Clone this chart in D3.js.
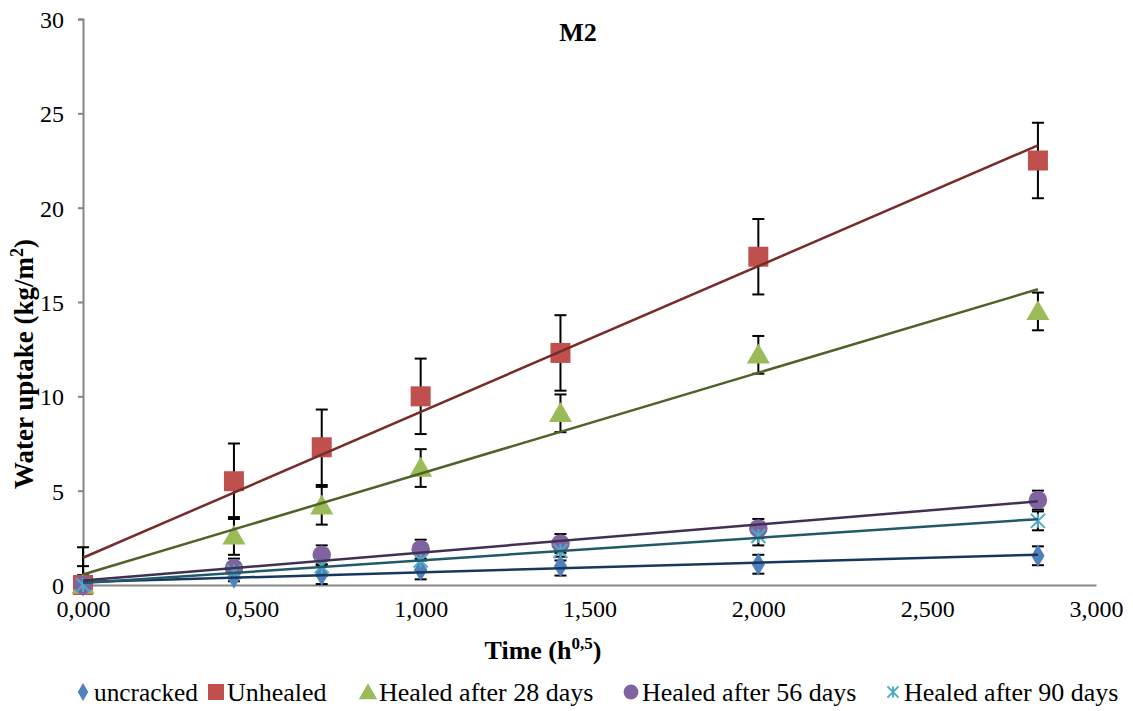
<!DOCTYPE html>
<html>
<head>
<meta charset="utf-8">
<title>M2 - Water uptake</title>
<script src="https://cdn.jsdelivr.net/npm/d3@7"></script>
<style>
    body { margin: 0; background: #fff; }
    svg text { font-family: "Liberation Serif", "Times New Roman", serif; fill: #000; }
</style>
</head>
<body>
<script>
// time in h^0.5
var times = [0, 0.447, 0.707, 1, 1.414, 2, 2.828];

var uncracked = [0, 0.4, 0.55, 0.8, 1.0, 1.1, 1.55];
var unhealed = [0, 5.5, 7.3, 10.0, 12.3, 17.4, 22.5];
var healed28 = [0, 2.6, 4.2, 6.2, 9.1, 12.2, 14.5];
var healed56 = [0, 0.9, 1.6, 1.9, 2.2, 3.0, 4.5];
var healed90 = [0, 0.7, 1.0, 1.3, 1.8, 2.6, 3.4];

// error bar half widths
var errors = [0.5, 2, 1, 0.5, 0.5];

var seriesNames = ["uncracked", "Unhealed", "Healed after 28 days", "Healed after 56 days", "Healed after 90 days"];
var yTicks = [0, 5, 10, 15, 20, 25, 30];
var xTicks = [0, 0.5, 1, 1.5, 2, 2.5, 3];

var markerColors = ["#4F81BD", "#C0504D", "#9BBB59", "#8064A2", "#4BACC6"];
var lineColors = ["#17375E", "#772C2A", "#4F6228", "#403152", "#215968"];
var shapes = ["diamond", "square", "triangle", "circle", "star"];

var allValues = [uncracked, unhealed, healed28, healed56, healed90];

var width = 1133, height = 711;
var svg = d3.select("body").append("svg")
    .attr("width", width)
    .attr("height", height);

var x = d3.scaleLinear().domain([0, 3]).range([83, 1096]);
var y = d3.scaleLinear().domain([0, 30]).range([585, 19]);

// shrink a text's font until it fits the width it has in the reference
function fitWidth(sel, target, size) {
    var w = sel.node().getComputedTextLength();
    if (w > target) sel.style("font-size", (size * target / w).toFixed(1) + "px");
}

// axes
var yAxis = svg.append("g")
    .attr("transform", "translate(83,0)")
    .call(d3.axisLeft(y).tickValues(yTicks).tickSize(5).tickPadding(14).tickFormat(d3.format("d")));
yAxis.attr("font-family", null).attr("font-size", null);
yAxis.select(".domain").attr("stroke", "#868686").attr("stroke-width", 2);
yAxis.selectAll(".tick line").attr("stroke", "#868686").attr("stroke-width", 2);
yAxis.selectAll(".tick text").style("font-size", "24px").attr("dy", "0.35em");

var xAxis = svg.append("g")
    .attr("transform", "translate(0,585)")
    .call(d3.axisBottom(x).tickValues(xTicks).tickSize(0).tickPadding(15)
        .tickFormat(function(d) { return d3.format(".3f")(d).replace(".", ","); }));
xAxis.attr("font-family", null).attr("font-size", null);
xAxis.select(".domain").attr("stroke", "#868686").attr("stroke-width", 2);
xAxis.selectAll(".tick text").style("font-size", "24px");

function symbolFor(shape, size) {
    var types = {
        diamond: d3.symbolDiamond,
        square: d3.symbolSquare,
        triangle: d3.symbolTriangle,
        circle: d3.symbolCircle
    };
    return d3.symbol().type(types[shape]).size(size)();
}

function drawMarker(g, shape, color, cx, cy, k) {
    k = k || 1;
    if (shape === "star") {
        var s = 7 * k;
        g.append("path")
            .attr("d", "M" + (cx - s) + "," + (cy - s) + "L" + (cx + s) + "," + (cy + s) +
                "M" + (cx - s) + "," + (cy + s) + "L" + (cx + s) + "," + (cy - s) +
                "M" + cx + "," + (cy - s) + "L" + cx + "," + (cy + s))
            .attr("stroke", color).attr("stroke-width", 2).attr("fill", "none");
        return;
    }
    var sizes = { diamond: 150, square: 400, triangle: 230, circle: 270 };
    g.append("path")
        .attr("d", symbolFor(shape, sizes[shape] * k * k))
        .attr("transform", "translate(" + cx + "," + (shape === "triangle" ? cy + 2 : cy) + ")")
        .attr("fill", color);
}

// least squares trendline
function fit(xs, ys) {
    var mx = d3.mean(xs), my = d3.mean(ys);
    var sxy = d3.sum(xs, function(v, i) { return (v - mx) * (ys[i] - my); });
    var sxx = d3.sum(xs, function(v) { return (v - mx) * (v - mx); });
    var b = sxy / sxx;
    return { a: my - b * mx, b: b };
}

var errG = svg.append("g");
var markG = svg.append("g");
var trendG = svg.append("g");

allValues.forEach(function(vals, si) {
    var e = errors[si];
    vals.forEach(function(v, i) {
        var cx = x(times[i]);
        var top = y(Math.min(30, v + e)), bot = y(Math.max(0, v - e));
        errG.append("line").attr("x1", cx).attr("x2", cx).attr("y1", top).attr("y2", bot)
            .attr("stroke", "#000").attr("stroke-width", 2);
        errG.append("line").attr("x1", cx - 6).attr("x2", cx + 6).attr("y1", top).attr("y2", top)
            .attr("stroke", "#000").attr("stroke-width", 2);
        if (v - e > 0) {
            errG.append("line").attr("x1", cx - 6).attr("x2", cx + 6).attr("y1", bot).attr("y2", bot)
                .attr("stroke", "#000").attr("stroke-width", 2);
        }
    });
});

allValues.forEach(function(vals, si) {
    vals.forEach(function(v, i) {
        drawMarker(markG, shapes[si], markerColors[si], x(times[i]), y(v));
    });
});

allValues.forEach(function(vals, si) {
    var f = fit(times, vals);
    var x0 = d3.min(times), x1 = d3.max(times);
    trendG.append("line")
        .attr("x1", x(x0)).attr("y1", y(f.a + f.b * x0))
        .attr("x2", x(x1)).attr("y2", y(f.a + f.b * x1))
        .attr("stroke", lineColors[si]).attr("stroke-width", 2.5);
});

// title and axis labels
svg.append("text").attr("x", 578).attr("y", 41).attr("text-anchor", "middle")
    .style("font-size", "26px").style("font-weight", "bold").text("M2");

var xl = svg.append("text").attr("x", 543).attr("y", 659).attr("text-anchor", "middle")
    .style("font-size", "26px").style("font-weight", "bold");
xl.append("tspan").text("Time (h");
xl.append("tspan").attr("dy", -10).style("font-size", "17px").text("0,5");
xl.append("tspan").attr("dy", 10).text(")");
fitWidth(xl, 120, 26);

var yl = svg.append("text").attr("transform", "translate(33,364) rotate(-90)").attr("text-anchor", "middle")
    .style("font-size", "27px").style("font-weight", "bold");
yl.append("tspan").text("Water uptake (kg/m");
yl.append("tspan").attr("dy", -10).style("font-size", "18px").text("2");
yl.append("tspan").attr("dy", 10).text(")");
fitWidth(yl, 272, 27);

// legend
var legendX = [83, 216, 368, 631, 893];
var legendW = [104, 112, 220, 222, 220];
var legend = svg.append("g");
seriesNames.forEach(function(name, si) {
    drawMarker(legend, shapes[si], markerColors[si], legendX[si], 692, 0.8);
    var t = legend.append("text").attr("x", legendX[si] + 11).attr("y", 701)
        .style("font-size", "26px").text(name);
    fitWidth(t, legendW[si], 26);
});
</script>
</body>
</html>
